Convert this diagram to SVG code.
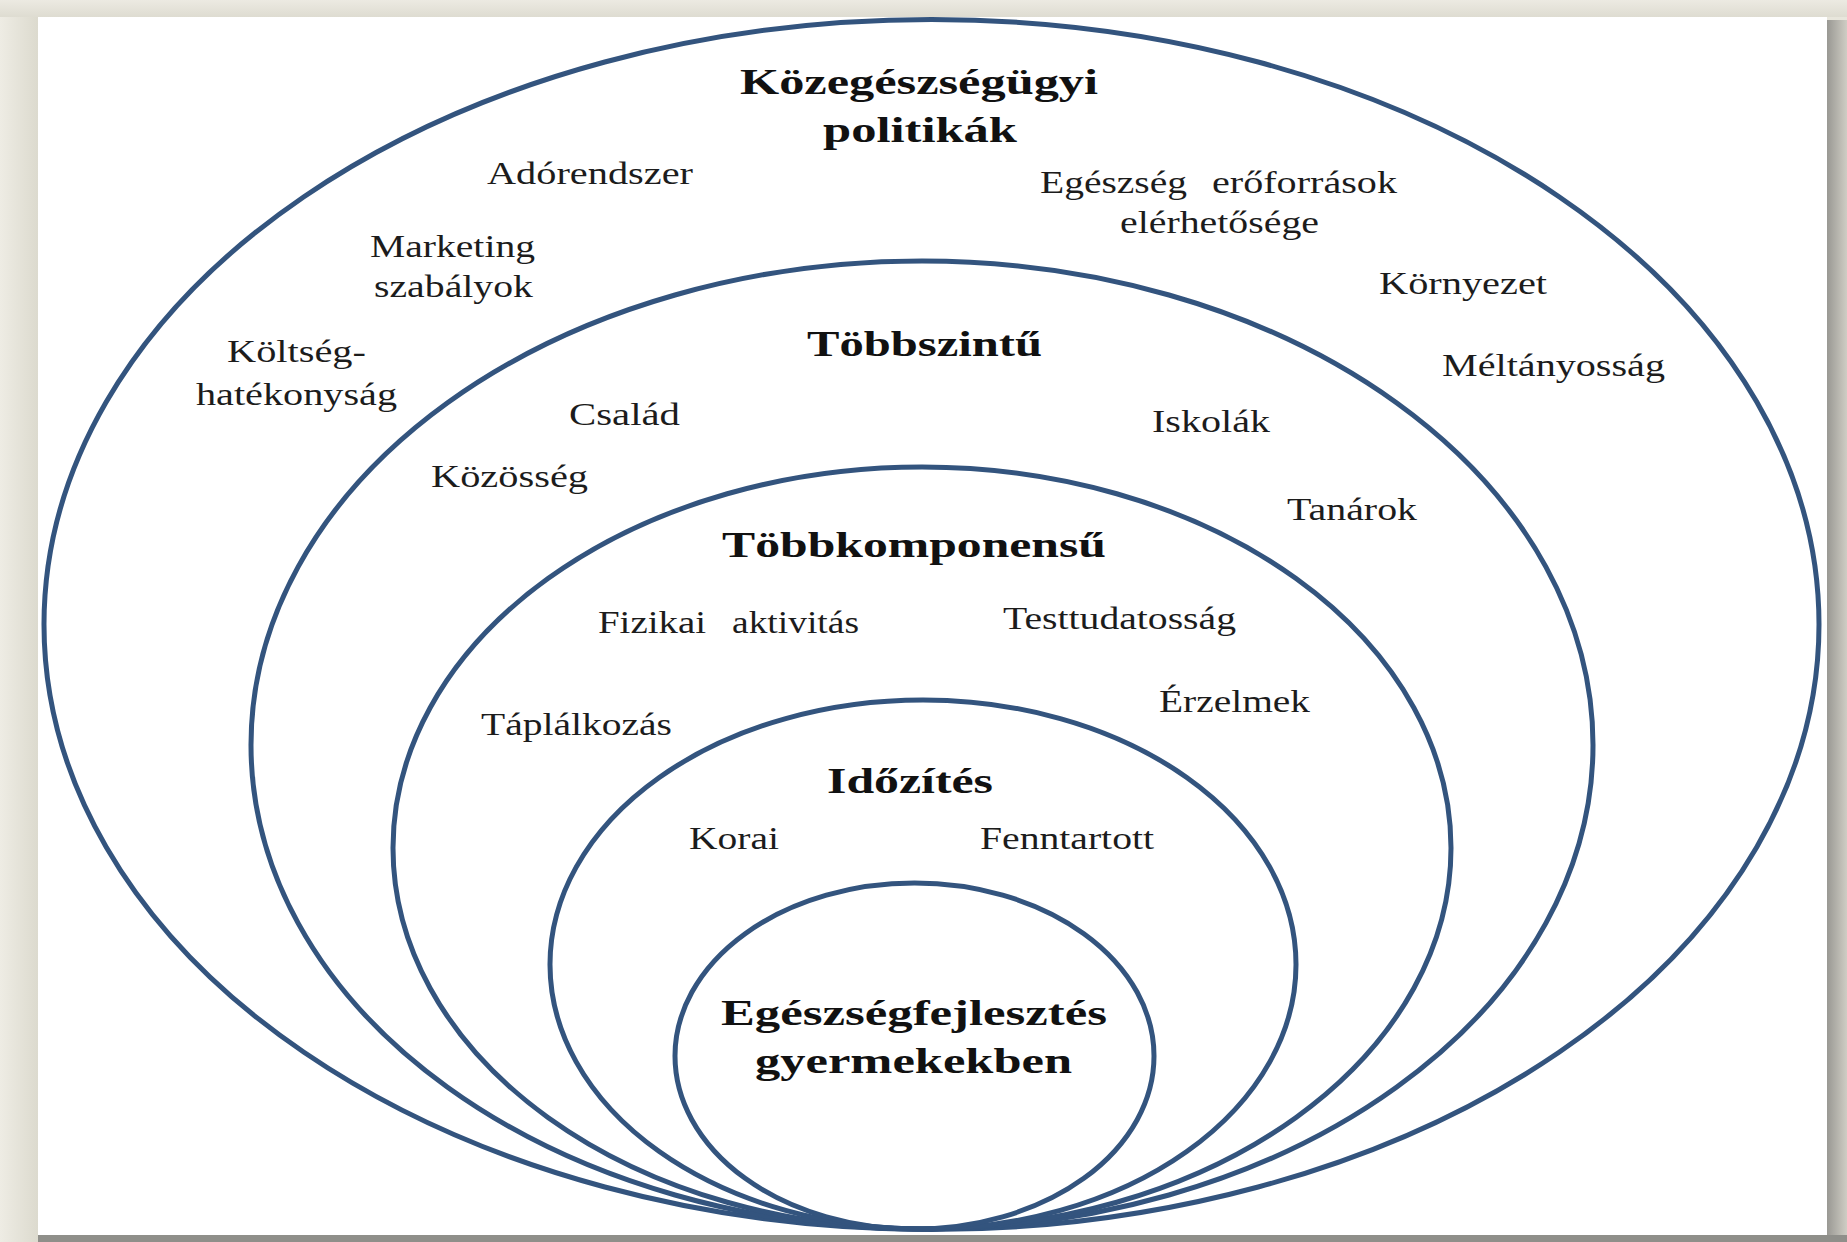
<svg xmlns="http://www.w3.org/2000/svg" width="1847" height="1242" viewBox="0 0 1847 1242">
  <defs>
    <linearGradient id="leftEdge" x1="0" y1="0" x2="1" y2="0">
      <stop offset="0" stop-color="#eeece4"/>
      <stop offset="1" stop-color="#dcdace"/>
    </linearGradient>
    <linearGradient id="topEdge" x1="0" y1="0" x2="0" y2="1">
      <stop offset="0" stop-color="#eceae2"/>
      <stop offset="1" stop-color="#dedcd1"/>
    </linearGradient>
    <linearGradient id="rightEdge" x1="0" y1="0" x2="1" y2="0">
      <stop offset="0" stop-color="#999893"/>
      <stop offset="1" stop-color="#cfcdc4"/>
    </linearGradient>
  </defs>
  <style>
    .ring { fill: none; stroke: #33547e; stroke-width: 5; }
    .t { font-family: "Liberation Serif", "Times New Roman", serif; font-size: 31px; fill: #1c1c1c; }
    .b { font-family: "Liberation Serif", "Times New Roman", serif; font-size: 35px; font-weight: bold; fill: #111111; }
  </style>

  <!-- background and frame -->
  <rect x="0" y="0" width="1847" height="1242" fill="#e8e6dc"/>
  <rect x="0" y="0" width="38" height="1242" fill="url(#leftEdge)"/>
  <rect x="0" y="0" width="1847" height="17" fill="url(#topEdge)"/>
  <rect x="1827" y="20" width="20" height="1222" fill="url(#rightEdge)"/>
  <rect x="38" y="1235" width="1809" height="7" fill="#8f8f8a"/>
  <rect x="38" y="17" width="1789" height="1218" fill="#ffffff"/>

  <g id="node-kozegeszsegugyi">
    <ellipse class="ring" cx="931.5" cy="624.5" rx="887.5" ry="605"/>
    <text class="b" x="740" y="94" textLength="358" lengthAdjust="spacingAndGlyphs">Közegészségügyi</text>
    <text class="b" x="823" y="142" textLength="194" lengthAdjust="spacingAndGlyphs">politikák</text>
    <text class="t" x="487" y="184" textLength="206" lengthAdjust="spacingAndGlyphs">Adórendszer</text>
    <text class="t" x="370" y="257" textLength="165" lengthAdjust="spacingAndGlyphs">Marketing</text>
    <text class="t" x="374" y="297" textLength="159" lengthAdjust="spacingAndGlyphs">szabályok</text>
    <text class="t" x="227" y="362" textLength="139" lengthAdjust="spacingAndGlyphs">Költség-</text>
    <text class="t" x="196" y="405" textLength="201" lengthAdjust="spacingAndGlyphs">hatékonyság</text>
    <text class="t" y="193"><tspan x="1040" textLength="147" lengthAdjust="spacingAndGlyphs">Egészség</tspan><tspan x="1212" textLength="185" lengthAdjust="spacingAndGlyphs">erőforrások</tspan></text>
    <text class="t" x="1120" y="233" textLength="199" lengthAdjust="spacingAndGlyphs">elérhetősége</text>
    <text class="t" x="1379" y="294" textLength="168" lengthAdjust="spacingAndGlyphs">Környezet</text>
    <text class="t" x="1442" y="376" textLength="223" lengthAdjust="spacingAndGlyphs">Méltányosság</text>
  </g>

  <g id="node-tobbszintu">
    <ellipse class="ring" cx="922" cy="745" rx="671" ry="484"/>
    <text class="b" x="807" y="356" textLength="235" lengthAdjust="spacingAndGlyphs">Többszintű</text>
    <text class="t" x="569" y="425" textLength="111" lengthAdjust="spacingAndGlyphs">Család</text>
    <text class="t" x="431" y="487" textLength="157" lengthAdjust="spacingAndGlyphs">Közösség</text>
    <text class="t" x="1152" y="432" textLength="118" lengthAdjust="spacingAndGlyphs">Iskolák</text>
    <text class="t" x="1287" y="520" textLength="130" lengthAdjust="spacingAndGlyphs">Tanárok</text>
  </g>

  <g id="node-tobbkomponensu">
    <ellipse class="ring" cx="922" cy="848" rx="529" ry="381"/>
    <text class="b" x="722" y="557" textLength="384" lengthAdjust="spacingAndGlyphs">Többkomponensű</text>
    <text class="t" y="633"><tspan x="598" textLength="108" lengthAdjust="spacingAndGlyphs">Fizikai</tspan><tspan x="732" textLength="127" lengthAdjust="spacingAndGlyphs">aktivitás</tspan></text>
    <text class="t" x="1003" y="629" textLength="233" lengthAdjust="spacingAndGlyphs">Testtudatosság</text>
    <text class="t" x="1159" y="712" textLength="151" lengthAdjust="spacingAndGlyphs">Érzelmek</text>
    <text class="t" x="481" y="735" textLength="191" lengthAdjust="spacingAndGlyphs">Táplálkozás</text>
  </g>

  <g id="node-idozites">
    <ellipse class="ring" cx="923" cy="964.5" rx="373" ry="264.5"/>
    <text class="b" x="827" y="793" textLength="166" lengthAdjust="spacingAndGlyphs">Időzítés</text>
    <text class="t" x="689" y="849" textLength="90" lengthAdjust="spacingAndGlyphs">Korai</text>
    <text class="t" x="980" y="849" textLength="174" lengthAdjust="spacingAndGlyphs">Fenntartott</text>
  </g>

  <g id="node-egeszsegfejlesztes">
    <ellipse class="ring" cx="914.5" cy="1056" rx="239.5" ry="173"/>
    <text class="b" x="721" y="1025" textLength="386" lengthAdjust="spacingAndGlyphs">Egészségfejlesztés</text>
    <text class="b" x="755" y="1073" textLength="317" lengthAdjust="spacingAndGlyphs">gyermekekben</text>
  </g>
</svg>
